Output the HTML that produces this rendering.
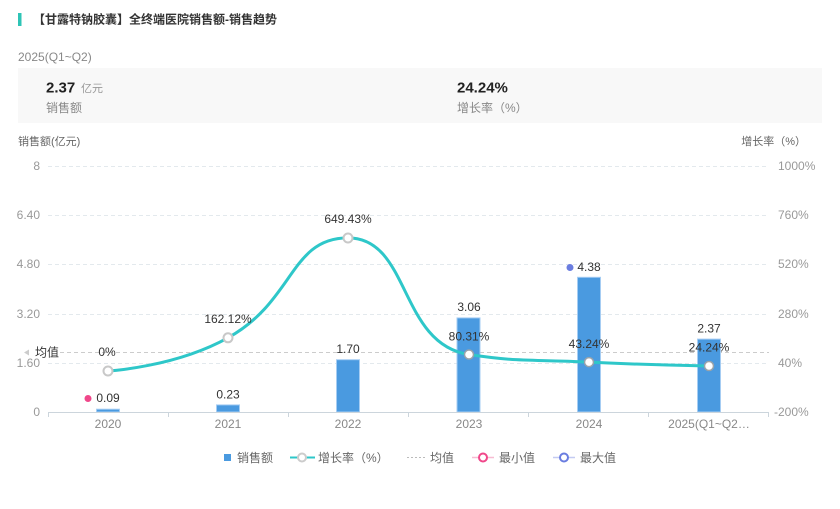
<!DOCTYPE html>
<html><head><meta charset="utf-8">
<style>
html,body{margin:0;padding:0;background:#fff;}
body{width:840px;height:509px;overflow:hidden;font-family:"Liberation Sans","Noto Sans CJK SC",sans-serif;}
svg{display:block;}
</style></head>
<body>
<svg width="840" height="509" viewBox="0 0 840 509" xmlns="http://www.w3.org/2000/svg" font-family="Liberation Sans, Noto Sans CJK SC, sans-serif">
  <!-- title -->
  <rect x="18" y="13" width="3.5" height="13" fill="#2ec4b6"/>
  <text x="33" y="19.5" font-size="12" font-weight="bold" fill="#333" dominant-baseline="central">【甘露特钠胶囊】全终端医院销售额-销售趋势</text>
  <text x="18" y="57" font-size="12" fill="#888" dominant-baseline="central">2025(Q1~Q2)</text>

  <!-- summary box -->
  <rect x="18" y="68" width="804" height="55" fill="#f8f8f8"/>
  <text x="46" y="88" font-size="15" font-weight="bold" fill="#222" dominant-baseline="central">2.37</text>
  <text x="81" y="89" font-size="11" fill="#999" dominant-baseline="central">亿元</text>
  <text x="46" y="108" font-size="12" fill="#888" dominant-baseline="central">销售额</text>
  <text x="457" y="88" font-size="15" font-weight="bold" fill="#222" dominant-baseline="central">24.24%</text>
  <text x="457" y="108" font-size="12" fill="#888" dominant-baseline="central">增长率（%）</text>

  <!-- axis names -->
  <text x="18" y="142" font-size="11" fill="#666" dominant-baseline="central">销售额(亿元)</text>
  <text x="806" y="142" font-size="11" fill="#666" text-anchor="end" dominant-baseline="central">增长率（%）</text>

  <!-- grid lines -->
  <g stroke="#e3e9ed" stroke-width="1" stroke-dasharray="4,3">
    <line x1="48" y1="166.5" x2="769" y2="166.5"/>
    <line x1="48" y1="215.5" x2="769" y2="215.5"/>
    <line x1="48" y1="264.5" x2="769" y2="264.5"/>
    <line x1="48" y1="314.5" x2="769" y2="314.5"/>
    <line x1="48" y1="363.5" x2="769" y2="363.5"/>
  </g>

  <!-- left tick labels -->
  <g font-size="12" fill="#999" text-anchor="end" dominant-baseline="central">
    <text x="40" y="166">8</text>
    <text x="40" y="215">6.40</text>
    <text x="40" y="264">4.80</text>
    <text x="40" y="314">3.20</text>
    <text x="40" y="363">1.60</text>
    <text x="40" y="412">0</text>
  </g>
  <!-- right tick labels -->
  <g font-size="12" fill="#999" dominant-baseline="central">
    <text x="778" y="166">1000%</text>
    <text x="778" y="215">760%</text>
    <text x="778" y="264">520%</text>
    <text x="778" y="314">280%</text>
    <text x="778" y="363">40%</text>
    <text x="774" y="412">-200%</text>
  </g>

  <!-- average line (behind bars) -->
  <line x1="60" y1="352.5" x2="769" y2="352.5" stroke="#cccccc" stroke-width="1" stroke-dasharray="4,3"/>
  <path d="M24,352.5 L29,349.5 L29,355.5 Z" fill="#cccccc"/>
  <text x="35" y="352.5" font-size="12" fill="#333" dominant-baseline="central">均值</text>

  <!-- bars -->
  <g fill="#4a9ae0" stroke="#a6cdf3" stroke-width="1">
    <rect x="96.5" y="409.2" width="23" height="2.8"/>
    <rect x="216.5" y="404.9" width="23" height="7.1"/>
    <rect x="336.5" y="359.7" width="23" height="52.3"/>
    <rect x="457" y="317.9" width="23" height="94.1"/>
    <rect x="577.5" y="277.3" width="23" height="134.7"/>
    <rect x="697.5" y="339.1" width="23" height="72.9"/>
  </g>

  <!-- axis line -->
  <g stroke="#ccd5dc" stroke-width="1">
    <line x1="48" y1="412.5" x2="769" y2="412.5"/>
    <line x1="48.5" y1="412" x2="48.5" y2="417"/>
    <line x1="168.5" y1="412" x2="168.5" y2="417"/>
    <line x1="288.5" y1="412" x2="288.5" y2="417"/>
    <line x1="408.5" y1="412" x2="408.5" y2="417"/>
    <line x1="528.5" y1="412" x2="528.5" y2="417"/>
    <line x1="648.5" y1="412" x2="648.5" y2="417"/>
    <line x1="768.5" y1="412" x2="768.5" y2="417"/>
  </g>
  <!-- x labels -->
  <g font-size="12" fill="#888" text-anchor="middle" dominant-baseline="central">
    <text x="108" y="424">2020</text>
    <text x="228" y="424">2021</text>
    <text x="348" y="424">2022</text>
    <text x="469" y="424">2023</text>
    <text x="589" y="424">2024</text>
    <text x="709" y="424">2025(Q1~Q2…</text>
  </g>

  <!-- growth line -->
  <path d="M108,371 C108,371 174.76,367.30 228,337.77 C294.76,300.74 289.97,237.87 348,237.87 C410.47,237.87 398.75,343.92 469,354.54 C519.25,362.14 528.96,359.28 589,362.14 C648.95,365.0 709,365.99 709,365.99" fill="none" stroke="#2ec7c9" stroke-width="3"/>
  <g fill="#fff" stroke="#c8c8c8" stroke-width="2">
    <circle cx="108" cy="371" r="4.5"/>
    <circle cx="228" cy="337.8" r="4.5"/>
    <circle cx="348" cy="238" r="4.5"/>
  </g>
  <g fill="#fff" stroke="#9aa3aa" stroke-width="1.5">
    <circle cx="469" cy="354.5" r="4.5"/>
    <circle cx="589" cy="362.1" r="4.5"/>
    <circle cx="709" cy="366" r="4.5"/>
  </g>

  <!-- growth labels -->
  <g font-size="12" fill="#333" text-anchor="middle" dominant-baseline="central">
    <text x="107" y="352">0%</text>
    <text x="228" y="319">162.12%</text>
    <text x="348" y="219">649.43%</text>
    <text x="469" y="336.5">80.31%</text>
    <text x="589" y="344">43.24%</text>
    <text x="709" y="347.5">24.24%</text>
  </g>
  <!-- bar labels -->
  <g font-size="12" fill="#333" text-anchor="middle" dominant-baseline="central">
    <text x="108" y="398">0.09</text>
    <text x="228" y="394.5">0.23</text>
    <text x="348" y="349">1.70</text>
    <text x="469" y="307">3.06</text>
    <text x="589" y="267">4.38</text>
    <text x="709" y="328.5">2.37</text>
  </g>
  <circle cx="88" cy="398.5" r="3.5" fill="#f0478a"/>
  <circle cx="570" cy="267.5" r="3.5" fill="#6a7de0"/>

  <!-- legend -->
  <rect x="224" y="454" width="7" height="7" fill="#4a9ae0"/>
  <text x="237" y="458" font-size="12" fill="#666" dominant-baseline="central">销售额</text>
  <line x1="290" y1="457.5" x2="315" y2="457.5" stroke="#2ec7c9" stroke-width="2"/>
  <circle cx="302" cy="457.5" r="4" fill="#fff" stroke="#ccc" stroke-width="2"/>
  <text x="318" y="458" font-size="12" fill="#666" dominant-baseline="central">增长率（%）</text>
  <line x1="407" y1="457.5" x2="426" y2="457.5" stroke="#bbb" stroke-width="1" stroke-dasharray="2,2"/>
  <text x="430" y="458" font-size="12" fill="#666" dominant-baseline="central">均值</text>
  <line x1="472" y1="457.5" x2="494" y2="457.5" stroke="#f7bcd2" stroke-width="1.5"/>
  <circle cx="483" cy="457.5" r="4" fill="#fff" stroke="#f0478a" stroke-width="2"/>
  <text x="499" y="458" font-size="12" fill="#666" dominant-baseline="central">最小值</text>
  <line x1="553" y1="457.5" x2="575" y2="457.5" stroke="#c4cbf2" stroke-width="1.5"/>
  <circle cx="564" cy="457.5" r="4" fill="#fff" stroke="#6a7de0" stroke-width="2"/>
  <text x="580" y="458" font-size="12" fill="#666" dominant-baseline="central">最大值</text>
</svg>
</body></html>
